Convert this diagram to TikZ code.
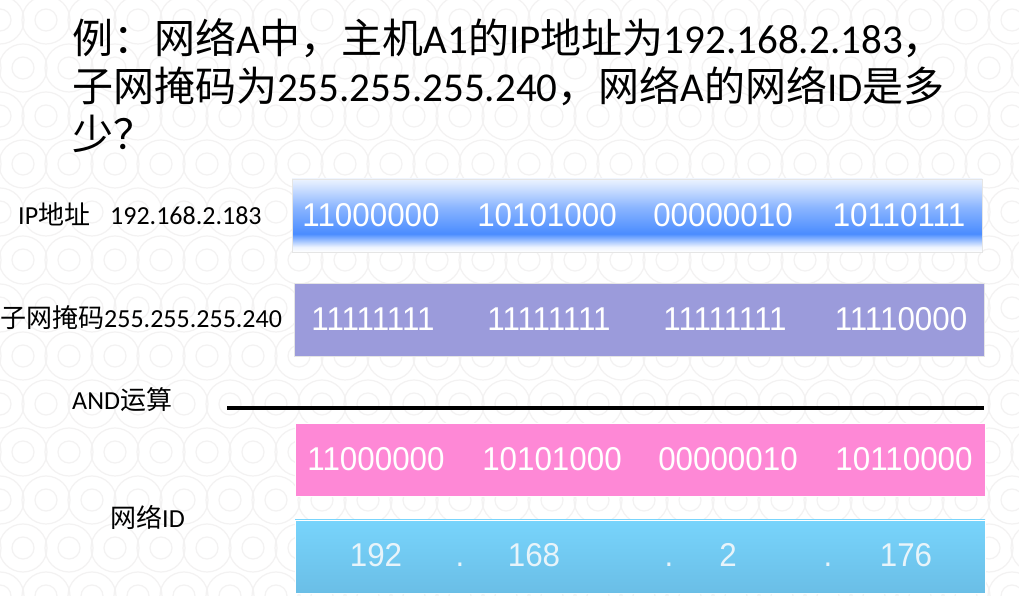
\documentclass[tikz,border=0pt]{standalone}
\usepackage{fontspec}
\setmainfont{Carlito}
\newfontfamily\cjk{Noto Sans CJK SC}
\newfontfamily\bitfont[FakeStretch=0.95]{Liberation Sans}
\newcommand{\zh}[1]{{\cjk #1}}

\definecolor{ipblue}{RGB}{74,140,255}
\definecolor{ipmid}{RGB}{140,182,255}
\definecolor{iptop}{RGB}{236,243,255}
\definecolor{maskpurple}{RGB}{155,155,219}
\definecolor{andpink}{RGB}{254,136,214}
\definecolor{idtop}{RGB}{120,212,252}
\definecolor{idbottom}{RGB}{106,190,230}
\definecolor{idtext}{RGB}{232,244,250}
\definecolor{ringgray}{RGB}{243,242,242}

\pgfdeclareverticalshading{ipshade}{100bp}{
    color(0bp)=(white);
    color(25bp)=(white);
    color(28.5bp)=(iptop);
    color(37.5bp)=(ipblue);
    color(41.5bp)=(ipblue!92!white);
    color(56bp)=(ipmid);
    color(70bp)=(iptop!75!ipmid);
    color(75bp)=(iptop);
    color(100bp)=(iptop)
}

\tikzstyle{bitbar} = [
    rectangle,
    minimum width=690,
    minimum height=73,
    inner sep=0pt,
    draw=black!10,
    line width=0.8pt
]
\tikzstyle{bits} = [
    anchor=base,
    inner sep=0pt,
    text=white,
    font=\bitfont\fontsize{33}{33}\selectfont
]
\tikzstyle{leftlabel} = [
    anchor=base west,
    inner sep=0pt,
    font=\fontsize{26}{26}\selectfont
]
\tikzstyle{titleline} = [
    anchor=base west,
    inner sep=0pt,
    font=\fontsize{41}{48}\selectfont
]

\begin{document}
\begin{tikzpicture}[x=1pt, y=1pt]

% background with rings
\fill[white] (0,0) rectangle (1019,596);
\useasboundingbox (0,0) rectangle (1019,596);
\begin{scope}
\clip (0,0) rectangle (1019,596);
\foreach \i in {-7,...,22}
  \foreach \j in {0,...,12}
    \draw[ringgray, line width=1.2pt] (\i*46+\j*23, \j*48) circle (24) circle (11);
\end{scope}

% question
\node (title1) [titleline] at (72,542)
{\zh{例：网络}A\zh{中，主机}A1\zh{的}IP\zh{地址为}192.168.2.183\zh{，}};
\node (title2) [titleline] at (72,494)
{\zh{子网掩码为}255.255.255.240\zh{，网络}A\zh{的网络}ID\zh{是多}};
\node (title3) [titleline] at (72,446) {\zh{少？}};

% labels
\node (iplabel) [leftlabel] at (18,371) {IP\zh{地址}\hspace{20pt}192.168.2.183};
\node (masklabel) [leftlabel] at (0,268) {\zh{子网掩码}255.255.255.240};
\node (andlabel) [leftlabel] at (72,186) {AND\zh{运算}};
\node (idlabel) [leftlabel] at (110,68) {\zh{网络}ID};

% bars
\node (ipbar) [bitbar, shade, shading=ipshade] at (637,380.5) {};
\node (maskbar) [bitbar, fill=maskpurple] at (639,276.5) {};
\node (andbar) [bitbar, fill=andpink, draw=white] at (640,136.5) {};
\node (idbar) [bitbar, top color=idtop, bottom color=idbottom, draw=white] at (640,39.5) {};

\coordinate (linestart) at (227,188);
\coordinate (lineend) at (984,188);
\draw [line width=4pt] (linestart) -- (lineend);

% binary values
\foreach \b [count=\k] in {11000000,10101000,00000010,10110111}
  \node (ipbits\k) [bits] at ({371+176*(\k-1)},369) {\b};
\foreach \b [count=\k] in {11111111,11111111,11111111,11110000}
  \node (maskbits\k) [bits] at ({373+176*(\k-1)},265) {\b};
\foreach \b [count=\k] in {11000000,10101000,00000010,10110000}
  \node (andbits\k) [bits] at ({376+176*(\k-1)},125) {\b};

% network id
\foreach \x/\t [count=\k] in {376/192,460/.,534/168,669/.,728/2,828/.,906/176}
  \node (idpart\k) [bits, text=idtext] at (\x,29) {\t};

\end{tikzpicture}
\end{document}
